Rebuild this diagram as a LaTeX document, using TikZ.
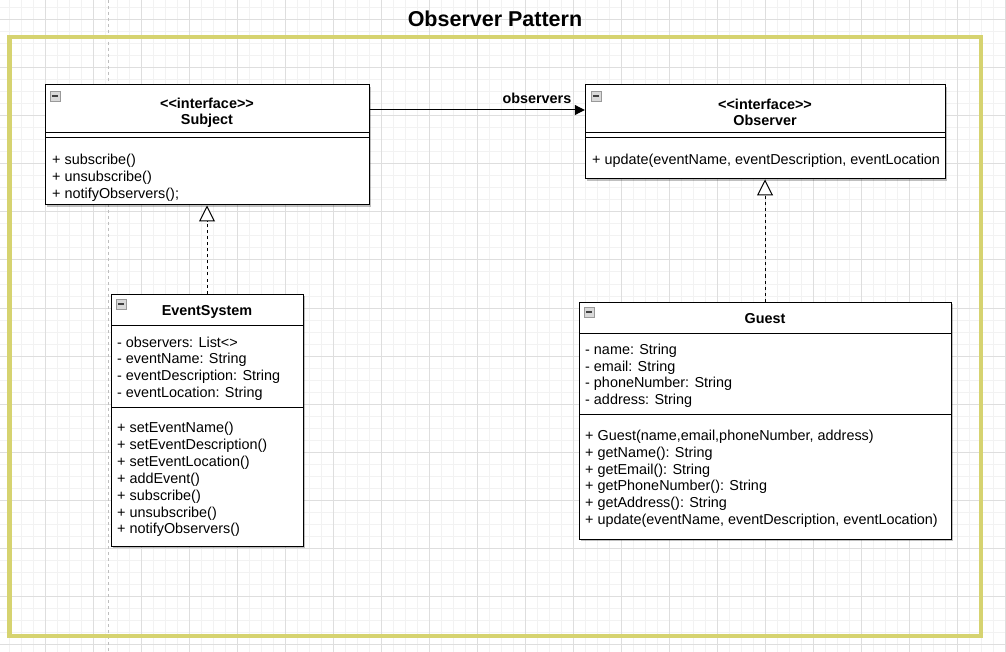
\documentclass[tikz,border=0pt]{standalone}
\usepackage{fontspec}
\setmainfont{Liberation Sans}
\usetikzlibrary{arrows.meta,shadows}
\definecolor{frameyellow}{RGB}{214,211,112}
\definecolor{gridmajor}{RGB}{222,222,222}
\definecolor{gridminor}{RGB}{242,242,242}
\definecolor{pagebreak}{RGB}{190,190,190}
\tikzset{
  classbox/.style={draw=black, line width=1pt, fill=white, inner sep=0pt,
    drop shadow={shadow xshift=2pt, shadow yshift=-2pt, opacity=0.25, fill=black}},
  headbox/.style={inner sep=0pt},
  headtext/.style={inner sep=0pt, align=center,
    font=\bfseries\fontsize{14.4}{16}\selectfont},
  member/.style={anchor=base west, inner sep=0pt, font=\fontsize{14.4}{17}\selectfont},
  collapse/.style={draw=gray!80, fill=gray!30, minimum size=10pt, inner sep=0pt,
    line width=0.8pt,
    path picture={\draw[black!75, line width=1.2pt]
      ([xshift=-3pt]path picture bounding box.center) --
      ([xshift=3pt]path picture bounding box.center);}},
  sepline/.style={draw=black, line width=1pt},
  realize/.style={draw=black, line width=1pt, dash pattern=on 3pt off 3pt,
    -{Triangle[open, length=16pt, width=16pt, fill=white]}},
  assoc/.style={draw=black, line width=1pt, -{Triangle[length=10pt, width=10pt]}},
  lbl/.style={inner sep=0pt, font=\bfseries\fontsize{14.4}{17}\selectfont}
}
\begin{document}
\begin{tikzpicture}[x=1pt, y=-1pt]
\useasboundingbox (0,0) rectangle (1006,652);
\fill[white] (0,0) rectangle (1006,652);
% grid
\foreach \gx in {9,21,...,1005} \draw[gridminor, line width=1pt] (\gx,0) -- (\gx,652);
\foreach \gy in {8,20,...,644} \draw[gridminor, line width=1pt] (0,\gy) -- (1006,\gy);
\foreach \gx in {45,93,...,1005} \draw[gridmajor, line width=1pt] (\gx,0) -- (\gx,652);
\foreach \gy in {20,68,...,644} \draw[gridmajor, line width=1pt] (0,\gy) -- (1006,\gy);
% page break line
\draw[pagebreak, line width=0.8pt, dash pattern=on 3pt off 3pt] (108,0) -- (108,652);
% frame
\draw[frameyellow, line width=4.5pt] (9.5,37) rectangle (981,636);
\node[inner sep=0pt, font=\bfseries\fontsize{21.5}{25}\selectfont] (title) at (495,19) {Observer Pattern};

% Subject
\node[classbox, minimum width=324pt, minimum height=120pt] (subject) at (207,145) {};
\node[headbox, minimum width=324pt, minimum height=48pt] (subjhead) at (207,110) {};
\node[headtext] (subjtitle) at (207,112.5) {<\kern0pt<interface>\kern0pt>\\Subject};
\node[collapse] (subjicon) at (55,96) {};
\draw[sepline] (45,133) -- (369,133);
\draw[sepline] (45,138) -- (369,138);
\foreach \t [count=\i] in {{+ subscribe()},{+ unsubscribe()},{+ notifyObservers();}}
  \node[member, name=subjm\i] at ({52},{165+17*(\i-1)}) {\t};

% Observer
\node[classbox, minimum width=360pt, minimum height=94pt] (observer) at (765,132) {};
\node[headbox, minimum width=360pt, minimum height=48pt] (obshead) at (765,110) {};
\node[headtext] (obstitle) at (765,112.5) {<\kern0pt<interface>\kern0pt>\\Observer};
\node[collapse] (obsicon) at (596,96) {};
\draw[sepline] (585,133) -- (945,133);
\draw[sepline] (585,138) -- (945,138);
\node[member] (obsm1) at (592,165) {+ update(eventName, eventDescription, eventLocation};

% EventSystem
\node[classbox, minimum width=192pt, minimum height=252pt] (eventsystem) at (207,420) {};
\node[headtext] (evtitle) at (207,311.5) {EventSystem};
\node[collapse] (evicon) at (121,304) {};
\draw[sepline] (111,325) -- (303,325);
\draw[sepline] (111,407) -- (303,407);
\foreach \t [count=\i] in {{- observers: List<>},{- eventName: String},{- eventDescription: String},{- eventLocation: String}}
  \node[member, name=eva\i] at ({117},{347+16.8*(\i-1)}) {\t};
\foreach \t [count=\i] in {{+ setEventName()},{+ setEventDescription()},{+ setEventLocation()},{+ addEvent()},{+ subscribe()},{+ unsubscribe()},{+ notifyObservers()}}
  \node[member, name=evm\i] at ({117},{432.5+16.9*(\i-1)}) {\t};

% Guest
\node[classbox, minimum width=372pt, minimum height=237pt] (guest) at (765,420.5) {};
\node[headtext] (guesttitle) at (765,319) {Guest};
\node[collapse] (guesticon) at (589,312) {};
\draw[sepline] (579,333) -- (951,333);
\draw[sepline] (579,414) -- (951,414);
\foreach \t [count=\i] in {{- name: String},{- email: String},{- phoneNumber: String},{- address: String}}
  \node[member, name=ga\i] at ({585},{354.5+16.7*(\i-1)}) {\t};
\foreach \t [count=\i] in {{+ Guest(name,email,phoneNumber, address)},{+ getName(): String},{+ getEmail(): String},{+ getPhoneNumber(): String},{+ getAddress(): String},{+ update(eventName, eventDescription, eventLocation)}}
  \node[member, name=gm\i] at ({585},{440.5+16.8*(\i-1)}) {\t};

% connectors
\draw[assoc] (subjhead.east) -- (obshead.west)
  node[lbl, pos=0.778, yshift=12pt] (obslbl) {observers};
\draw[realize] (eventsystem.north) -- (subject.south);
\draw[realize] (guest.north) -- (observer.south);
\end{tikzpicture}
\end{document}
